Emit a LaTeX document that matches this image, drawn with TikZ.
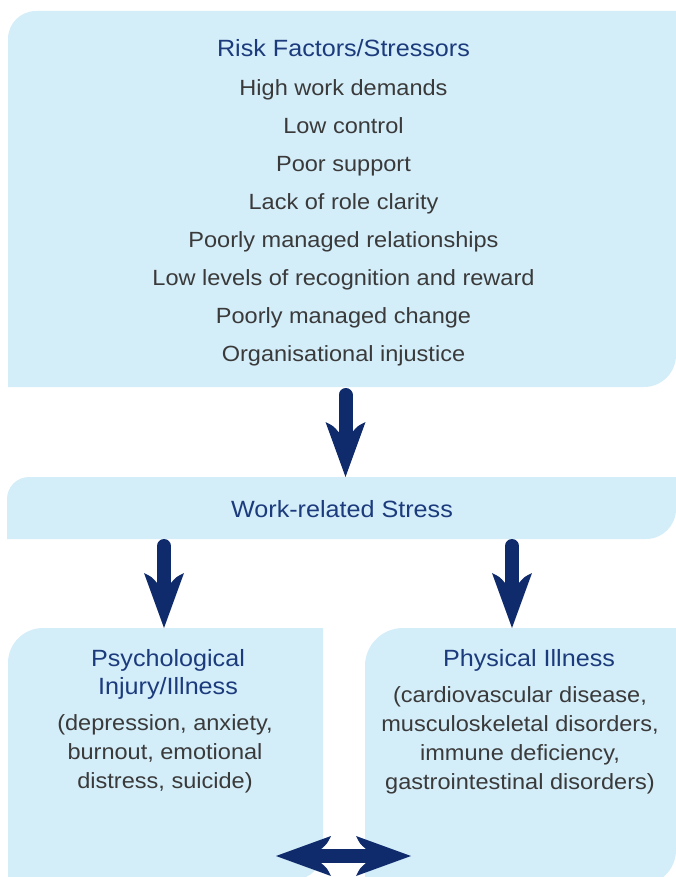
\documentclass[tikz,border=0pt]{standalone}
\usepackage{fontspec}
\setmainfont{Liberation Sans}[FakeStretch=1.07]
\usetikzlibrary{calc}
\definecolor{boxblue}{HTML}{D3EDF9}
\definecolor{navy}{HTML}{0F2B6C}
\definecolor{titleblue}{HTML}{1C3B7C}
\definecolor{bodygray}{HTML}{3A3A3A}
\tikzset{
  panel/.style={fill=boxblue},
  titletext/.style={text=titleblue, font=\fontsize{23.5}{28}\selectfont, align=center, inner sep=0pt, anchor=base},
  bodytop/.style={text=bodygray, font=\fontsize{22}{37.86}\selectfont, align=center, inner sep=0pt, anchor=base},
  bodylow/.style={text=bodygray, font=\fontsize{22}{28.8}\selectfont, align=center, inner sep=0pt, anchor=base},
  shaft/.style={draw=navy, line width=14pt},
}
\newcommand\headat[2]{\fill[navy, shift={(#1)}, rotate=#2] (0,0) -- (-20,-55) .. controls (-12,-51) .. (-7,-45) -- (7,-45) .. controls (12,-51) .. (20,-55) -- cycle;}
\begin{document}
\begin{tikzpicture}[x=1pt,y=-1pt]
\useasboundingbox (0,0) rectangle (676,877);
% panels
\fill[panel] (8,387) -- (8,39) .. controls (8,23.5) and (20.5,11) .. (36,11) -- (676,11) -- (676,355) .. controls (676,372.7) and (661.7,387) .. (644,387) -- cycle;
\fill[panel] (7,539) -- (7,499) .. controls (7,486.9) and (16.9,477) .. (29,477) -- (676,477) -- (676,509) .. controls (676,525.6) and (662.6,539) .. (646,539) -- cycle;
\fill[panel] (8,880) -- (8,663) .. controls (8,643.7) and (23.7,628) .. (43,628) -- (323,628) -- (323,850) .. controls (323,866.6) and (309.6,880) .. (293,880) -- cycle;
\fill[panel] (365,885) -- (365,666) .. controls (365,645) and (382,628) .. (403,628) -- (676,628) -- (676,850) .. controls (676,869.3) and (660.3,885) .. (641,885) -- cycle;
% texts (multi-line nodes: base anchor sits on the last line)
\node[titletext] (risktitle) at (343.5,57) {Risk Factors/Stressors};
\node[bodytop] (risklist) at (343.5,361) {High work demands\\Low control\\Poor support\\Lack of role clarity\\Poorly managed relationships\\Low levels of recognition and reward\\Poorly managed change\\Organisational injustice};
\node[titletext] (stress) at (342,517) {Work-related Stress};
\node[titletext] (psytitle) at (168,694) {Psychological\\Injury/Illness};
\node[bodylow] (psylist) at (165,788) {(depression, anxiety,\\burnout, emotional\\distress, suicide)};
\node[titletext] (phytitle) at (529,666) {Physical Illness};
\node[bodylow] (phylist) at (520,789) {(cardiovascular disease,\\musculoskeletal disorders,\\immune deficiency,\\gastrointestinal disorders)};
% arrows
\coordinate (a1top) at (345.5,395);
\coordinate (a1tip) at (345.5,477);
\coordinate (a2top) at (164,546);
\coordinate (a2tip) at (164,628);
\coordinate (a3top) at (512,546);
\coordinate (a3tip) at (512,628);
\coordinate (dl) at (276,856);
\coordinate (dr) at (411,856);
\draw[shaft, line cap=round] (a1top) -- ($(a1tip)+(0,-40)$);
\headat{a1tip}{0}
\draw[shaft, line cap=round] (a2top) -- ($(a2tip)+(0,-40)$);
\headat{a2tip}{0}
\draw[shaft, line cap=round] (a3top) -- ($(a3tip)+(0,-40)$);
\headat{a3tip}{0}
\draw[shaft] ($(dl)+(40,0)$) -- ($(dr)+(-40,0)$);
\headat{dl}{-90}
\headat{dr}{90}
\end{tikzpicture}
\end{document}
